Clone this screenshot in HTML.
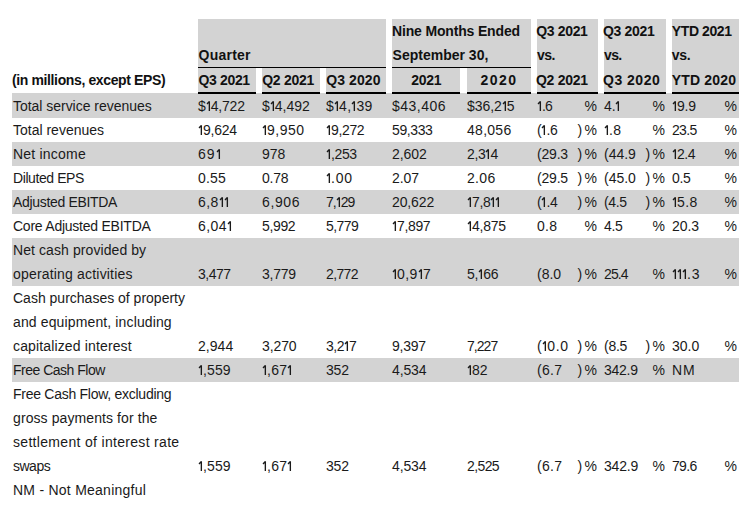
<!DOCTYPE html>
<html><head><meta charset="utf-8"><style>
html,body{margin:0;padding:0;background:#fff;}
body{width:750px;height:507px;overflow:hidden;position:relative;font-family:"Liberation Sans",sans-serif;font-size:14px;}
.r{position:absolute;}
.t{position:absolute;line-height:24px;white-space:nowrap;color:#1a1a1a;}
.b{font-weight:bold;color:#111;}
.o{vertical-align:baseline;display:inline-block;}
</style></head><body>
<div class="r" style="left:12px;top:93px;width:727px;height:25px;background:#d3d3d3"></div>
<div class="t" style="left:13px;top:94px;letter-spacing:-0.029px;">Total service revenues</div>
<div class="t" style="left:198px;top:94px;letter-spacing:-0.16px;">$<svg class="o" width="5" height="10" viewBox="0 0 5 10"><path d="M3.35 0.2V10M3.35 0.6L1.0 2.9" stroke="#1a1a1a" stroke-width="1.35" fill="none"/></svg>4,722</div>
<div class="t" style="left:262px;top:94px;letter-spacing:0.0px;">$<svg class="o" width="5" height="10" viewBox="0 0 5 10"><path d="M3.35 0.2V10M3.35 0.6L1.0 2.9" stroke="#1a1a1a" stroke-width="1.35" fill="none"/></svg>4,492</div>
<div class="t" style="left:326px;top:94px;letter-spacing:0.3px;">$<svg class="o" width="5" height="10" viewBox="0 0 5 10"><path d="M3.35 0.2V10M3.35 0.6L1.0 2.9" stroke="#1a1a1a" stroke-width="1.35" fill="none"/></svg>4,<svg class="o" width="5" height="10" viewBox="0 0 5 10"><path d="M3.35 0.2V10M3.35 0.6L1.0 2.9" stroke="#1a1a1a" stroke-width="1.35" fill="none"/></svg>39</div>
<div class="t" style="left:392px;top:94px;letter-spacing:0.5px;">$43,406</div>
<div class="t" style="left:467px;top:94px;letter-spacing:-0.04px;">$36,2<svg class="o" width="5" height="10" viewBox="0 0 5 10"><path d="M3.35 0.2V10M3.35 0.6L1.0 2.9" stroke="#1a1a1a" stroke-width="1.35" fill="none"/></svg>5</div>
<div class="t" style="left:537px;top:94px;letter-spacing:-0.8px;"><svg class="o" width="5" height="10" viewBox="0 0 5 10"><path d="M3.35 0.2V10M3.35 0.6L1.0 2.9" stroke="#1a1a1a" stroke-width="1.35" fill="none"/></svg>.6</div>
<div class="t" style="left:537px;top:94px;width:60px;text-align:right"><span style="display:inline-block;width:2.5px"></span>%</div>
<div class="t" style="left:604px;top:94px;letter-spacing:-0.1px;">4.<svg class="o" width="5" height="10" viewBox="0 0 5 10"><path d="M3.35 0.2V10M3.35 0.6L1.0 2.9" stroke="#1a1a1a" stroke-width="1.35" fill="none"/></svg></div>
<div class="t" style="left:604px;top:94px;width:61px;text-align:right"><span style="display:inline-block;width:2.5px"></span>%</div>
<div class="t" style="left:672px;top:94px;letter-spacing:-0.2px;"><svg class="o" width="5" height="10" viewBox="0 0 5 10"><path d="M3.35 0.2V10M3.35 0.6L1.0 2.9" stroke="#1a1a1a" stroke-width="1.35" fill="none"/></svg>9.9</div>
<div class="t" style="left:672px;top:94px;width:65px;text-align:right"><span style="display:inline-block;width:2.5px"></span>%</div>
<div class="t" style="left:13px;top:118px;letter-spacing:0.0px;">Total revenues</div>
<div class="t" style="left:198px;top:118px;letter-spacing:-0.25px;"><svg class="o" width="5" height="10" viewBox="0 0 5 10"><path d="M3.35 0.2V10M3.35 0.6L1.0 2.9" stroke="#1a1a1a" stroke-width="1.35" fill="none"/></svg>9,624</div>
<div class="t" style="left:262px;top:118px;letter-spacing:0.5px;"><svg class="o" width="5" height="10" viewBox="0 0 5 10"><path d="M3.35 0.2V10M3.35 0.6L1.0 2.9" stroke="#1a1a1a" stroke-width="1.35" fill="none"/></svg>9,950</div>
<div class="t" style="left:326px;top:118px;letter-spacing:-0.35px;"><svg class="o" width="5" height="10" viewBox="0 0 5 10"><path d="M3.35 0.2V10M3.35 0.6L1.0 2.9" stroke="#1a1a1a" stroke-width="1.35" fill="none"/></svg>9,272</div>
<div class="t" style="left:392px;top:118px;letter-spacing:-0.4px;">59,333</div>
<div class="t" style="left:467px;top:118px;letter-spacing:0.28px;">48,056</div>
<div class="t" style="left:537px;top:118px;letter-spacing:-0.3px;">(<svg class="o" width="5" height="10" viewBox="0 0 5 10"><path d="M3.35 0.2V10M3.35 0.6L1.0 2.9" stroke="#1a1a1a" stroke-width="1.35" fill="none"/></svg>.6</div>
<div class="t" style="left:537px;top:118px;width:60px;text-align:right">)<span style="display:inline-block;width:2.5px"></span>%</div>
<div class="t" style="left:604px;top:118px;letter-spacing:0.4px;"><svg class="o" width="5" height="10" viewBox="0 0 5 10"><path d="M3.35 0.2V10M3.35 0.6L1.0 2.9" stroke="#1a1a1a" stroke-width="1.35" fill="none"/></svg>.8</div>
<div class="t" style="left:604px;top:118px;width:61px;text-align:right"><span style="display:inline-block;width:2.5px"></span>%</div>
<div class="t" style="left:672px;top:118px;letter-spacing:-0.667px;">23.5</div>
<div class="t" style="left:672px;top:118px;width:65px;text-align:right"><span style="display:inline-block;width:2.5px"></span>%</div>
<div class="r" style="left:12px;top:142px;width:727px;height:24px;background:#d3d3d3"></div>
<div class="t" style="left:13px;top:142px;letter-spacing:0.211px;">Net income</div>
<div class="t" style="left:198px;top:142px;letter-spacing:1.0px;">69<svg class="o" width="5" height="10" viewBox="0 0 5 10"><path d="M3.35 0.2V10M3.35 0.6L1.0 2.9" stroke="#1a1a1a" stroke-width="1.35" fill="none"/></svg></div>
<div class="t" style="left:262px;top:142px;letter-spacing:0.0px;">978</div>
<div class="t" style="left:326px;top:142px;letter-spacing:-0.4px;"><svg class="o" width="5" height="10" viewBox="0 0 5 10"><path d="M3.35 0.2V10M3.35 0.6L1.0 2.9" stroke="#1a1a1a" stroke-width="1.35" fill="none"/></svg>,253</div>
<div class="t" style="left:392px;top:142px;letter-spacing:-0.05px;">2,602</div>
<div class="t" style="left:467px;top:142px;letter-spacing:-0.333px;">2,3<svg class="o" width="5" height="10" viewBox="0 0 5 10"><path d="M3.35 0.2V10M3.35 0.6L1.0 2.9" stroke="#1a1a1a" stroke-width="1.35" fill="none"/></svg>4</div>
<div class="t" style="left:537px;top:142px;letter-spacing:-0.2px;">(29.3</div>
<div class="t" style="left:537px;top:142px;width:60px;text-align:right">)<span style="display:inline-block;width:2.5px"></span>%</div>
<div class="t" style="left:604px;top:142px;letter-spacing:0.0px;">(44.9</div>
<div class="t" style="left:604px;top:142px;width:61px;text-align:right">)<span style="display:inline-block;width:2.5px"></span>%</div>
<div class="t" style="left:672px;top:142px;letter-spacing:-0.5px;"><svg class="o" width="5" height="10" viewBox="0 0 5 10"><path d="M3.35 0.2V10M3.35 0.6L1.0 2.9" stroke="#1a1a1a" stroke-width="1.35" fill="none"/></svg>2.4</div>
<div class="t" style="left:672px;top:142px;width:65px;text-align:right"><span style="display:inline-block;width:2.5px"></span>%</div>
<div class="t" style="left:13px;top:166px;letter-spacing:-0.41px;">Diluted EPS</div>
<div class="t" style="left:198px;top:166px;letter-spacing:0.2px;">0.55</div>
<div class="t" style="left:262px;top:166px;letter-spacing:-0.2px;">0.78</div>
<div class="t" style="left:326px;top:166px;letter-spacing:0.8px;"><svg class="o" width="5" height="10" viewBox="0 0 5 10"><path d="M3.35 0.2V10M3.35 0.6L1.0 2.9" stroke="#1a1a1a" stroke-width="1.35" fill="none"/></svg>.00</div>
<div class="t" style="left:392px;top:166px;letter-spacing:-0.067px;">2.07</div>
<div class="t" style="left:467px;top:166px;letter-spacing:0.334px;">2.06</div>
<div class="t" style="left:537px;top:166px;letter-spacing:-0.2px;">(29.5</div>
<div class="t" style="left:537px;top:166px;width:60px;text-align:right">)<span style="display:inline-block;width:2.5px"></span>%</div>
<div class="t" style="left:604px;top:166px;letter-spacing:0.0px;">(45.0</div>
<div class="t" style="left:604px;top:166px;width:61px;text-align:right">)<span style="display:inline-block;width:2.5px"></span>%</div>
<div class="t" style="left:672px;top:166px;letter-spacing:-0.3px;">0.5</div>
<div class="t" style="left:672px;top:166px;width:65px;text-align:right"><span style="display:inline-block;width:2.5px"></span>%</div>
<div class="r" style="left:12px;top:190px;width:727px;height:24px;background:#d3d3d3"></div>
<div class="t" style="left:13px;top:190px;letter-spacing:-0.321px;">Adjusted EBITDA</div>
<div class="t" style="left:198px;top:190px;letter-spacing:0.467px;">6,8<svg class="o" width="5" height="10" viewBox="0 0 5 10"><path d="M3.35 0.2V10M3.35 0.6L1.0 2.9" stroke="#1a1a1a" stroke-width="1.35" fill="none"/></svg><svg class="o" width="5" height="10" viewBox="0 0 5 10"><path d="M3.35 0.2V10M3.35 0.6L1.0 2.9" stroke="#1a1a1a" stroke-width="1.35" fill="none"/></svg></div>
<div class="t" style="left:262px;top:190px;letter-spacing:0.6px;">6,906</div>
<div class="t" style="left:326px;top:190px;letter-spacing:-1.0px;">7,<svg class="o" width="5" height="10" viewBox="0 0 5 10"><path d="M3.35 0.2V10M3.35 0.6L1.0 2.9" stroke="#1a1a1a" stroke-width="1.35" fill="none"/></svg>29</div>
<div class="t" style="left:392px;top:190px;letter-spacing:-0.12px;">20,622</div>
<div class="t" style="left:467px;top:190px;letter-spacing:-0.4px;"><svg class="o" width="5" height="10" viewBox="0 0 5 10"><path d="M3.35 0.2V10M3.35 0.6L1.0 2.9" stroke="#1a1a1a" stroke-width="1.35" fill="none"/></svg>7,8<svg class="o" width="5" height="10" viewBox="0 0 5 10"><path d="M3.35 0.2V10M3.35 0.6L1.0 2.9" stroke="#1a1a1a" stroke-width="1.35" fill="none"/></svg><svg class="o" width="5" height="10" viewBox="0 0 5 10"><path d="M3.35 0.2V10M3.35 0.6L1.0 2.9" stroke="#1a1a1a" stroke-width="1.35" fill="none"/></svg></div>
<div class="t" style="left:537px;top:190px;letter-spacing:-0.3px;">(<svg class="o" width="5" height="10" viewBox="0 0 5 10"><path d="M3.35 0.2V10M3.35 0.6L1.0 2.9" stroke="#1a1a1a" stroke-width="1.35" fill="none"/></svg>.4</div>
<div class="t" style="left:537px;top:190px;width:60px;text-align:right">)<span style="display:inline-block;width:2.5px"></span>%</div>
<div class="t" style="left:604px;top:190px;letter-spacing:-0.333px;">(4.5</div>
<div class="t" style="left:604px;top:190px;width:61px;text-align:right">)<span style="display:inline-block;width:2.5px"></span>%</div>
<div class="t" style="left:672px;top:190px;letter-spacing:0.4px;"><svg class="o" width="5" height="10" viewBox="0 0 5 10"><path d="M3.35 0.2V10M3.35 0.6L1.0 2.9" stroke="#1a1a1a" stroke-width="1.35" fill="none"/></svg>5.8</div>
<div class="t" style="left:672px;top:190px;width:65px;text-align:right"><span style="display:inline-block;width:2.5px"></span>%</div>
<div class="t" style="left:13px;top:214px;letter-spacing:-0.237px;">Core Adjusted EBITDA</div>
<div class="t" style="left:198px;top:214px;letter-spacing:0.45px;">6,04<svg class="o" width="5" height="10" viewBox="0 0 5 10"><path d="M3.35 0.2V10M3.35 0.6L1.0 2.9" stroke="#1a1a1a" stroke-width="1.35" fill="none"/></svg></div>
<div class="t" style="left:262px;top:214px;letter-spacing:-0.35px;">5,992</div>
<div class="t" style="left:326px;top:214px;letter-spacing:-0.55px;">5,779</div>
<div class="t" style="left:392px;top:214px;letter-spacing:-0.35px;"><svg class="o" width="5" height="10" viewBox="0 0 5 10"><path d="M3.35 0.2V10M3.35 0.6L1.0 2.9" stroke="#1a1a1a" stroke-width="1.35" fill="none"/></svg>7,897</div>
<div class="t" style="left:467px;top:214px;letter-spacing:-0.25px;"><svg class="o" width="5" height="10" viewBox="0 0 5 10"><path d="M3.35 0.2V10M3.35 0.6L1.0 2.9" stroke="#1a1a1a" stroke-width="1.35" fill="none"/></svg>4,875</div>
<div class="t" style="left:537px;top:214px;letter-spacing:0.3px;">0.8</div>
<div class="t" style="left:537px;top:214px;width:60px;text-align:right"><span style="display:inline-block;width:2.5px"></span>%</div>
<div class="t" style="left:604px;top:214px;letter-spacing:-0.3px;">4.5</div>
<div class="t" style="left:604px;top:214px;width:61px;text-align:right"><span style="display:inline-block;width:2.5px"></span>%</div>
<div class="t" style="left:672px;top:214px;letter-spacing:-0.067px;">20.3</div>
<div class="t" style="left:672px;top:214px;width:65px;text-align:right"><span style="display:inline-block;width:2.5px"></span>%</div>
<div class="r" style="left:12px;top:238px;width:727px;height:48px;background:#d3d3d3"></div>
<div class="t" style="left:13px;top:238px;letter-spacing:0.084px;">Net cash provided by</div>
<div class="t" style="left:13px;top:262px;letter-spacing:0.184px;">operating activities</div>
<div class="t" style="left:198px;top:262px;letter-spacing:-0.5px;">3,477</div>
<div class="t" style="left:262px;top:262px;letter-spacing:-0.25px;">3,779</div>
<div class="t" style="left:326px;top:262px;letter-spacing:-0.65px;">2,772</div>
<div class="t" style="left:392px;top:262px;letter-spacing:0.466px;"><svg class="o" width="5" height="10" viewBox="0 0 5 10"><path d="M3.35 0.2V10M3.35 0.6L1.0 2.9" stroke="#1a1a1a" stroke-width="1.35" fill="none"/></svg>0,9<svg class="o" width="5" height="10" viewBox="0 0 5 10"><path d="M3.35 0.2V10M3.35 0.6L1.0 2.9" stroke="#1a1a1a" stroke-width="1.35" fill="none"/></svg>7</div>
<div class="t" style="left:467px;top:262px;letter-spacing:-0.267px;">5,<svg class="o" width="5" height="10" viewBox="0 0 5 10"><path d="M3.35 0.2V10M3.35 0.6L1.0 2.9" stroke="#1a1a1a" stroke-width="1.35" fill="none"/></svg>66</div>
<div class="t" style="left:537px;top:262px;letter-spacing:0.0px;">(8.0</div>
<div class="t" style="left:537px;top:262px;width:60px;text-align:right">)<span style="display:inline-block;width:2.5px"></span>%</div>
<div class="t" style="left:604px;top:262px;letter-spacing:-0.867px;">25.4</div>
<div class="t" style="left:604px;top:262px;width:61px;text-align:right"><span style="display:inline-block;width:2.5px"></span>%</div>
<div class="t" style="left:672px;top:262px;letter-spacing:0.8px;"><svg class="o" width="5" height="10" viewBox="0 0 5 10"><path d="M3.35 0.2V10M3.35 0.6L1.0 2.9" stroke="#1a1a1a" stroke-width="1.35" fill="none"/></svg><svg class="o" width="5" height="10" viewBox="0 0 5 10"><path d="M3.35 0.2V10M3.35 0.6L1.0 2.9" stroke="#1a1a1a" stroke-width="1.35" fill="none"/></svg><svg class="o" width="5" height="10" viewBox="0 0 5 10"><path d="M3.35 0.2V10M3.35 0.6L1.0 2.9" stroke="#1a1a1a" stroke-width="1.35" fill="none"/></svg>.3</div>
<div class="t" style="left:672px;top:262px;width:65px;text-align:right"><span style="display:inline-block;width:2.5px"></span>%</div>
<div class="t" style="left:13px;top:286px;letter-spacing:0.0px;">Cash purchases of property</div>
<div class="t" style="left:13px;top:310px;letter-spacing:0.13px;">and equipment, including</div>
<div class="t" style="left:13px;top:334px;letter-spacing:0.142px;">capitalized interest</div>
<div class="t" style="left:198px;top:334px;letter-spacing:0.05px;">2,944</div>
<div class="t" style="left:262px;top:334px;letter-spacing:-0.1px;">3,270</div>
<div class="t" style="left:326px;top:334px;letter-spacing:-0.467px;">3,2<svg class="o" width="5" height="10" viewBox="0 0 5 10"><path d="M3.35 0.2V10M3.35 0.6L1.0 2.9" stroke="#1a1a1a" stroke-width="1.35" fill="none"/></svg>7</div>
<div class="t" style="left:392px;top:334px;letter-spacing:-0.25px;">9,397</div>
<div class="t" style="left:467px;top:334px;letter-spacing:-0.95px;">7,227</div>
<div class="t" style="left:537px;top:334px;letter-spacing:0.667px;">(<svg class="o" width="5" height="10" viewBox="0 0 5 10"><path d="M3.35 0.2V10M3.35 0.6L1.0 2.9" stroke="#1a1a1a" stroke-width="1.35" fill="none"/></svg>0.0</div>
<div class="t" style="left:537px;top:334px;width:60px;text-align:right">)<span style="display:inline-block;width:2.5px"></span>%</div>
<div class="t" style="left:604px;top:334px;letter-spacing:-0.267px;">(8.5</div>
<div class="t" style="left:604px;top:334px;width:61px;text-align:right">)<span style="display:inline-block;width:2.5px"></span>%</div>
<div class="t" style="left:672px;top:334px;letter-spacing:0.0px;">30.0</div>
<div class="t" style="left:672px;top:334px;width:65px;text-align:right"><span style="display:inline-block;width:2.5px"></span>%</div>
<div class="r" style="left:12px;top:358px;width:727px;height:24px;background:#d3d3d3"></div>
<div class="t" style="left:13px;top:358px;letter-spacing:-0.5px;">Free Cash Flow</div>
<div class="t" style="left:198px;top:358px;letter-spacing:0.133px;"><svg class="o" width="5" height="10" viewBox="0 0 5 10"><path d="M3.35 0.2V10M3.35 0.6L1.0 2.9" stroke="#1a1a1a" stroke-width="1.35" fill="none"/></svg>,559</div>
<div class="t" style="left:262px;top:358px;letter-spacing:0.333px;"><svg class="o" width="5" height="10" viewBox="0 0 5 10"><path d="M3.35 0.2V10M3.35 0.6L1.0 2.9" stroke="#1a1a1a" stroke-width="1.35" fill="none"/></svg>,67<svg class="o" width="5" height="10" viewBox="0 0 5 10"><path d="M3.35 0.2V10M3.35 0.6L1.0 2.9" stroke="#1a1a1a" stroke-width="1.35" fill="none"/></svg></div>
<div class="t" style="left:326px;top:358px;letter-spacing:-0.2px;">352</div>
<div class="t" style="left:392px;top:358px;letter-spacing:-0.15px;">4,534</div>
<div class="t" style="left:467px;top:358px;letter-spacing:0.0px;"><svg class="o" width="5" height="10" viewBox="0 0 5 10"><path d="M3.35 0.2V10M3.35 0.6L1.0 2.9" stroke="#1a1a1a" stroke-width="1.35" fill="none"/></svg>82</div>
<div class="t" style="left:537px;top:358px;letter-spacing:0.333px;">(6.7</div>
<div class="t" style="left:537px;top:358px;width:60px;text-align:right">)<span style="display:inline-block;width:2.5px"></span>%</div>
<div class="t" style="left:604px;top:358px;letter-spacing:-0.25px;">342.9</div>
<div class="t" style="left:604px;top:358px;width:61px;text-align:right"><span style="display:inline-block;width:2.5px"></span>%</div>
<div class="t" style="left:672px;top:358px;letter-spacing:1.0px;">NM</div>
<div class="t" style="left:13px;top:382px;letter-spacing:-0.267px;">Free Cash Flow, excluding</div>
<div class="t" style="left:13px;top:406px;letter-spacing:0.09px;">gross payments for the</div>
<div class="t" style="left:13px;top:430px;letter-spacing:0.315px;">settlement of interest rate</div>
<div class="t" style="left:13px;top:454px;letter-spacing:-0.5px;">swaps</div>
<div class="t" style="left:198px;top:454px;letter-spacing:0.133px;"><svg class="o" width="5" height="10" viewBox="0 0 5 10"><path d="M3.35 0.2V10M3.35 0.6L1.0 2.9" stroke="#1a1a1a" stroke-width="1.35" fill="none"/></svg>,559</div>
<div class="t" style="left:262px;top:454px;letter-spacing:0.333px;"><svg class="o" width="5" height="10" viewBox="0 0 5 10"><path d="M3.35 0.2V10M3.35 0.6L1.0 2.9" stroke="#1a1a1a" stroke-width="1.35" fill="none"/></svg>,67<svg class="o" width="5" height="10" viewBox="0 0 5 10"><path d="M3.35 0.2V10M3.35 0.6L1.0 2.9" stroke="#1a1a1a" stroke-width="1.35" fill="none"/></svg></div>
<div class="t" style="left:326px;top:454px;letter-spacing:-0.2px;">352</div>
<div class="t" style="left:392px;top:454px;letter-spacing:-0.15px;">4,534</div>
<div class="t" style="left:467px;top:454px;letter-spacing:-0.6px;">2,525</div>
<div class="t" style="left:537px;top:454px;letter-spacing:0.333px;">(6.7</div>
<div class="t" style="left:537px;top:454px;width:60px;text-align:right">)<span style="display:inline-block;width:2.5px"></span>%</div>
<div class="t" style="left:604px;top:454px;letter-spacing:-0.2px;">342.9</div>
<div class="t" style="left:604px;top:454px;width:61px;text-align:right"><span style="display:inline-block;width:2.5px"></span>%</div>
<div class="t" style="left:672px;top:454px;letter-spacing:-0.667px;">79.6</div>
<div class="t" style="left:672px;top:454px;width:65px;text-align:right"><span style="display:inline-block;width:2.5px"></span>%</div>
<div class="t" style="left:13px;top:478px;letter-spacing:0.25px;">NM - Not Meaningful</div>
<div class="r" style="left:198px;top:19px;width:188px;height:48px;background:#d3d3d3"></div>
<div class="r" style="left:198px;top:67px;width:188px;height:1px;background:#000"></div>
<div class="r" style="left:198px;top:68px;width:58px;height:24px;background:#d3d3d3"></div>
<div class="r" style="left:198px;top:92px;width:58px;height:2px;background:#000"></div>
<div class="r" style="left:262px;top:68px;width:58px;height:24px;background:#d3d3d3"></div>
<div class="r" style="left:262px;top:92px;width:58px;height:2px;background:#000"></div>
<div class="r" style="left:326px;top:68px;width:60px;height:24px;background:#d3d3d3"></div>
<div class="r" style="left:326px;top:92px;width:60px;height:2px;background:#000"></div>
<div class="r" style="left:392px;top:19px;width:139px;height:48px;background:#d3d3d3"></div>
<div class="r" style="left:392px;top:67px;width:139px;height:1px;background:#000"></div>
<div class="r" style="left:392px;top:68px;width:68px;height:24px;background:#d3d3d3"></div>
<div class="r" style="left:392px;top:92px;width:68px;height:2px;background:#000"></div>
<div class="r" style="left:467px;top:68px;width:64px;height:24px;background:#d3d3d3"></div>
<div class="r" style="left:467px;top:92px;width:64px;height:2px;background:#000"></div>
<div class="r" style="left:537px;top:19px;width:61px;height:73px;background:#d3d3d3"></div>
<div class="r" style="left:537px;top:92px;width:61px;height:2px;background:#000"></div>
<div class="r" style="left:604px;top:19px;width:62px;height:73px;background:#d3d3d3"></div>
<div class="r" style="left:604px;top:92px;width:62px;height:2px;background:#000"></div>
<div class="r" style="left:672px;top:19px;width:67px;height:73px;background:#d3d3d3"></div>
<div class="r" style="left:672px;top:92px;width:67px;height:2px;background:#000"></div>
<div class="t b" style="left:198.6px;top:43px;letter-spacing:0.233px;">Quarter</div>
<div class="t b" style="left:198.6px;top:68px;letter-spacing:-0.367px;">Q3 2021</div>
<div class="t b" style="left:262.2px;top:68px;letter-spacing:-0.267px;">Q2 2021</div>
<div class="t b" style="left:326.2px;top:68px;letter-spacing:0.1px;">Q3 2020</div>
<div class="t b" style="left:392.0px;top:19px;letter-spacing:-0.163px;">Nine Months Ended</div>
<div class="t b" style="left:392.6px;top:43px;letter-spacing:-0.0px;">September 30,</div>
<div class="t b" style="left:392.2px;top:68px;width:68px;text-align:center;letter-spacing:-0.267px;">2021</div>
<div class="t b" style="left:467.0px;top:68px;width:64px;text-align:center;letter-spacing:1.467px;">2020</div>
<div class="t b" style="left:536.2px;top:19px;letter-spacing:-0.333px;">Q3 2021</div>
<div class="t b" style="left:537.0px;top:43px;letter-spacing:-0.5px;">vs.</div>
<div class="t b" style="left:536.0px;top:68px;letter-spacing:-0.266px;">Q2 2021</div>
<div class="t b" style="left:603.0px;top:19px;letter-spacing:-0.333px;">Q3 2021</div>
<div class="t b" style="left:604.0px;top:43px;letter-spacing:-0.6px;">vs.</div>
<div class="t b" style="left:603.0px;top:68px;letter-spacing:0.5px;">Q3 2020</div>
<div class="t b" style="left:671.8px;top:19px;letter-spacing:-0.4px;">YTD 2021</div>
<div class="t b" style="left:671.8px;top:43px;letter-spacing:-0.3px;">vs.</div>
<div class="t b" style="left:671.8px;top:68px;letter-spacing:0.172px;">YTD 2020</div>
<div class="t b" style="left:12.0px;top:68px;letter-spacing:-0.375px;">(in millions, except EPS)</div>
</body></html>
